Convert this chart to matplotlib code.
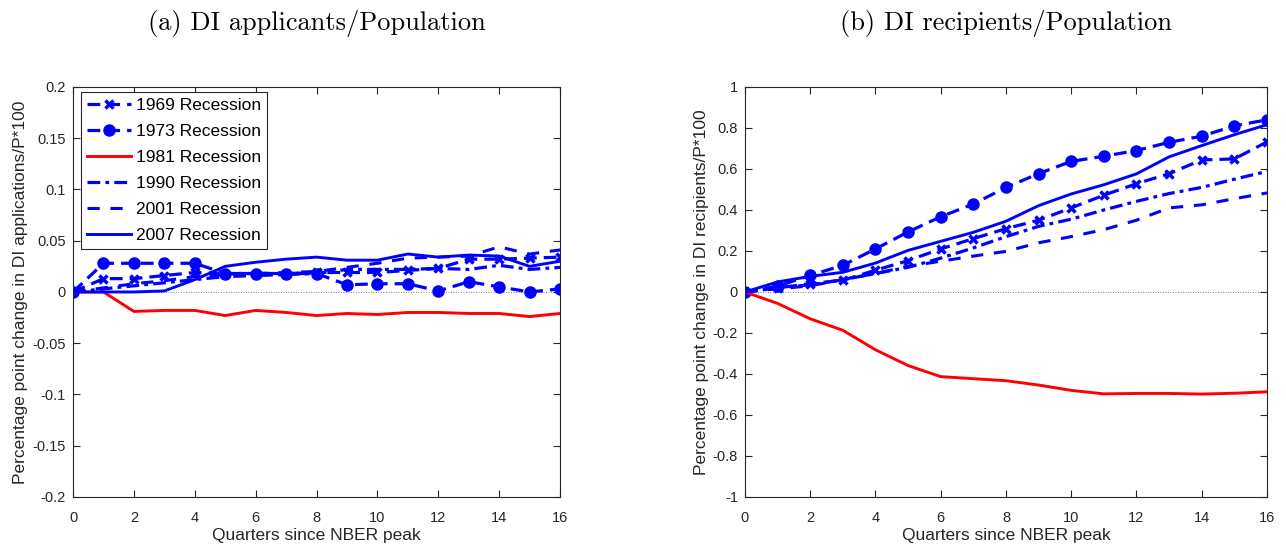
import numpy as np
import matplotlib
matplotlib.use("Agg")
import matplotlib.pyplot as plt
from matplotlib.ticker import FuncFormatter

plt.rcParams['font.family'] = ['Liberation Sans', 'DejaVu Sans']
plt.rcParams['axes.unicode_minus'] = False

quarters = list(range(17))
labels = ["1969 Recession", "1973 Recession", "1981 Recession",
          "1990 Recession", "2001 Recession", "2007 Recession"]

# (a) applicants / population
app1969 = [0, 0.013, 0.013, 0.016, 0.019, 0.018, 0.018, 0.018, 0.019, 0.019,
           0.019, 0.021, 0.023, 0.032, 0.032, 0.033, 0.034]
app1973 = [0, 0.028, 0.028, 0.028, 0.028, 0.018, 0.018, 0.018, 0.018, 0.007,
           0.008, 0.008, 0.001, 0.010, 0.005, 0.000, 0.003]
app1981 = [0, 0, -0.019, -0.018, -0.018, -0.023, -0.018, -0.020, -0.023, -0.021,
           -0.022, -0.020, -0.020, -0.021, -0.021, -0.024, -0.021]
app1990 = [0, 0.003, 0.006, 0.009, 0.012, 0.015, 0.016, 0.017, 0.018, 0.022,
           0.022, 0.022, 0.023, 0.022, 0.026, 0.022, 0.024]
app2001 = [0, 0.004, 0.008, 0.011, 0.015, 0.017, 0.018, 0.019, 0.020, 0.024,
           0.028, 0.033, 0.034, 0.035, 0.044, 0.037, 0.041]
app2007 = [0, 0, 0, 0.001, 0.012, 0.025, 0.029, 0.032, 0.034, 0.031,
           0.031, 0.037, 0.034, 0.036, 0.035, 0.025, 0.030]

# (b) recipients / population
rec1969 = [0, 0.02, 0.04, 0.057, 0.106, 0.153, 0.21, 0.26, 0.309, 0.35,
           0.41, 0.472, 0.528, 0.577, 0.644, 0.649, 0.732]
rec1973 = [0, 0.028, 0.081, 0.13, 0.21, 0.293, 0.367, 0.429, 0.51, 0.577,
           0.637, 0.662, 0.69, 0.73, 0.76, 0.81, 0.84]
rec1981 = [0, -0.056, -0.131, -0.187, -0.282, -0.359, -0.413, -0.423, -0.433, -0.454,
           -0.48, -0.497, -0.495, -0.495, -0.498, -0.494, -0.487]
rec1990 = [0, 0.02, 0.035, 0.06, 0.09, 0.12, 0.165, 0.215, 0.27, 0.32,
           0.355, 0.40, 0.442, 0.48, 0.51, 0.55, 0.588]
rec2001 = [0, 0.015, 0.03, 0.06, 0.09, 0.125, 0.15, 0.175, 0.198, 0.24,
           0.27, 0.304, 0.35, 0.41, 0.425, 0.455, 0.483]
rec2007 = [0, 0.049, 0.076, 0.096, 0.141, 0.203, 0.247, 0.291, 0.345, 0.421,
           0.478, 0.523, 0.576, 0.659, 0.714, 0.767, 0.816]

styles = [
    dict(color='#0000ff', ls=(0, (4, 2.2)), lw=2.3, marker='x', ms=6, mew=2.5),
    dict(color='#0000ff', ls=(0, (4, 2.2)), lw=2.3, marker='o', ms=8),
    dict(color='#ff0000', ls='-', lw=2.1),
    dict(color='#0000ff', ls=(0, (4, 1.6, 1.2, 1.6)), lw=2.3),
    dict(color='#0000ff', ls=(0, (4, 3.5)), lw=2.2),
    dict(color='#0000ff', ls='-', lw=2.1),
]

fig = plt.figure(figsize=(12.86, 5.5), dpi=100)
ax1 = fig.add_axes([0.0568, 0.0964, 0.3787, 0.7455])
ax2 = fig.add_axes([0.5793, 0.0964, 0.4059, 0.7455])


def tick_fmt(v, p):
    v = round(v, 4) + 0.0
    return '0' if abs(v) < 1e-9 else '%g' % v


for ax, series, ylim, step, ylab, title in [
        (ax1, [app1969, app1973, app1981, app1990, app2001, app2007], (-0.2, 0.2), 0.05,
         'Percentage point change in DI applications/P*100', '(a) DI applicants/Population'),
        (ax2, [rec1969, rec1973, rec1981, rec1990, rec2001, rec2007], (-1, 1), 0.2,
         'Percentage point change in DI recipients/P*100', '(b) DI recipients/Population')]:
    for s, st, lab in zip(series, styles, labels):
        ax.plot(quarters, s, label=lab, **st)
    ax.axhline(0, color='#555555', lw=0.6, ls=(0, (1, 2)), zorder=0)
    ax.set_xlim(0, 16)
    ax.set_ylim(*ylim)
    ax.set_xticks(range(0, 17, 2))
    ax.set_yticks(np.arange(ylim[0], ylim[1] + step / 2, step))
    ax.yaxis.set_major_formatter(FuncFormatter(tick_fmt))
    ax.tick_params(direction='in', top=True, right=True, length=5, width=0.8,
                   labelsize=10.5, colors='#262626')
    ax.tick_params(axis='x', pad=10)
    ax.tick_params(axis='y', pad=5)
    for sp in ax.spines.values():
        sp.set_color('#262626')
        sp.set_linewidth(0.8)
    ax.set_xlabel('Quarters since NBER peak', fontsize=12.5, color='#262626', labelpad=2)
    ax.set_ylabel(ylab, fontsize=12.5, color='#262626', labelpad=3)
    ax.set_title(title, family='cmr10', fontsize=19, pad=41)

leg = ax1.legend(loc='upper left', bbox_to_anchor=(8 / 487, 1 - 5 / 410),
                 borderaxespad=0, fontsize=12.5, handlelength=2.5, labelspacing=0.62,
                 fancybox=False, edgecolor='#262626', framealpha=1,
                 handletextpad=0.3, borderpad=0.35)
leg.get_frame().set_linewidth(0.8)

fig.savefig('out.png', dpi=100)
